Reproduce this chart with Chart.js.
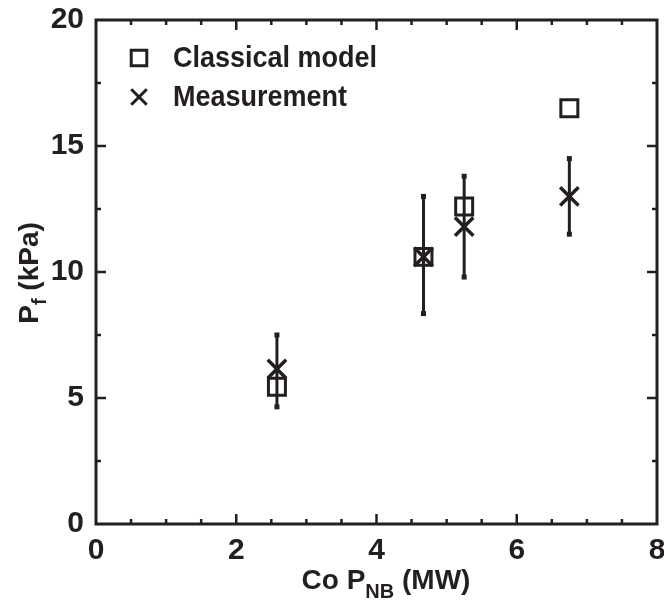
<!DOCTYPE html>
<html>
<head>
<meta charset="utf-8">
<script src="https://cdn.jsdelivr.net/npm/chart.js@4/dist/chart.umd.min.js"></script>
<style>
  html, body { margin: 0; padding: 0; background: #ffffff; overflow: hidden; }
  #wrap { width: 680px; height: 615px; margin-top: -10px; position: relative; }
</style>
</head>
<body>
<div id="wrap"><canvas id="chart"></canvas></div>
<script>
const powerMW = [2.58, 4.67, 5.25, 6.75]
const classicalKPa = [5.45, 10.6, 12.6, 16.5]
const measuredKPa = [6.15, 10.6, 11.8, 13.0]
const measuredLow = [4.65, 8.35, 9.8, 11.5]
const measuredHigh = [7.5, 13.0, 13.8, 14.5]

const xTicks = [0, 2, 4, 6, 8]
const yTicks = [0, 5, 10, 15, 20]
const legendLabels = ["Classical model", "Measurement"]

const ink = "#231f20"
const fontFamily = "'Liberation Sans', Arial, Helvetica, sans-serif"
const shift = 10 // canvas is pulled up by this much so the "20" label fits

const toPoints = (ys) => powerMW.map((x, i) => ({ x, y: ys[i] }))

// draw text squeezed horizontally, like the condensed face of the original
function squeezed(ctx, text, x, y, sx) {
  ctx.save()
  ctx.translate(x, y)
  ctx.scale(sx, 1)
  ctx.fillText(text, 0, 0)
  ctx.restore()
}

const errorBars = {
  id: "errorBars",
  beforeDatasetsDraw(chart) {
    const { ctx, scales } = chart
    ctx.save()
    ctx.strokeStyle = ink
    ctx.fillStyle = ink
    ctx.lineWidth = 3
    powerMW.forEach((x, i) => {
      const px = scales.x.getPixelForValue(x)
      const lo = scales.y.getPixelForValue(measuredLow[i])
      const hi = scales.y.getPixelForValue(measuredHigh[i])
      ctx.beginPath()
      ctx.moveTo(px, lo)
      ctx.lineTo(px, hi)
      ctx.stroke()
      ctx.fillRect(px - 2.5, lo - 2.5, 5, 5)
      ctx.fillRect(px - 2.5, hi - 2.5, 5, 5)
    })
    ctx.restore()
  }
}

const frameAndText = {
  id: "frameAndText",
  afterDraw(chart) {
    const { ctx, chartArea, scales } = chart
    const { left, right, top, bottom } = chartArea
    ctx.save()
    ctx.strokeStyle = ink
    ctx.lineWidth = 3
    ctx.strokeRect(left, top, right - left, bottom - top)

    // inward ticks on all four sides
    ctx.lineWidth = 2.5
    ctx.beginPath()
    for (let v = 0.5; v < 8; v += 0.5) {
      const px = scales.x.getPixelForValue(v)
      const len = v % 2 === 0 ? 10 : 5
      ctx.moveTo(px, bottom); ctx.lineTo(px, bottom - len)
      ctx.moveTo(px, top); ctx.lineTo(px, top + len)
    }
    for (let v = 2.5; v < 20; v += 2.5) {
      const py = scales.y.getPixelForValue(v)
      const len = v % 5 === 0 ? 10 : 5
      ctx.moveTo(left, py); ctx.lineTo(left + len, py)
      ctx.moveTo(right, py); ctx.lineTo(right - len, py)
    }
    ctx.stroke()

    // legend
    const rows = [
      { pointStyle: "rect", radius: 11, rotation: 0, borderWidth: 3, y: 58 + shift },
      { pointStyle: "crossRot", radius: 11, rotation: 0, borderWidth: 3, y: 97 + shift }
    ]
    rows.forEach((m, i) => {
      ctx.strokeStyle = ink
      ctx.lineWidth = 3
      ctx.fillStyle = "rgba(0,0,0,0)"
      Chart.helpers.drawPoint(ctx, m, 139, m.y)
      ctx.fillStyle = ink
      ctx.font = "bold 30px " + fontFamily
      ctx.textBaseline = "middle"
      ctx.textAlign = "left"
      squeezed(ctx, legendLabels[i], 173, m.y + 1, 0.9)
    })

    // x title with subscript
    ctx.fillStyle = ink
    ctx.textBaseline = "alphabetic"
    ctx.textAlign = "left"
    const big = "bold 28px " + fontFamily
    const small = "bold 20px " + fontFamily
    ctx.font = big
    const w1 = ctx.measureText("Co P").width
    const w3 = ctx.measureText(" (MW)").width
    ctx.font = small
    const w2 = ctx.measureText("NB").width
    let x = 386 - (w1 + w2 + w3) / 2
    const base = 589 + shift
    ctx.font = big
    ctx.fillText("Co P", x, base)
    ctx.font = small
    ctx.fillText("NB", x + w1, base + 9)
    ctx.font = big
    ctx.fillText(" (MW)", x + w1 + w2, base)

    // y title with subscript, rotated
    ctx.translate(38, 273 + shift)
    ctx.rotate(-Math.PI / 2)
    ctx.font = big
    const a1 = ctx.measureText("P").width
    const a3 = ctx.measureText(" (kPa)").width
    ctx.font = small
    const a2 = ctx.measureText("f").width
    x = -(a1 + a2 + a3) / 2
    ctx.font = big
    ctx.fillText("P", x, 0)
    ctx.font = small
    ctx.fillText("f", x + a1, 8)
    ctx.font = big
    ctx.fillText(" (kPa)", x + a1 + a2, 0)
    ctx.restore()
  }
}

new Chart(document.getElementById("chart"), {
  type: "scatter",
  data: {
    datasets: [
      {
        label: legendLabels[0],
        data: toPoints(classicalKPa),
        pointStyle: "rect",
        pointRadius: 12,
        pointBorderWidth: 3,
        pointBorderColor: ink,
        pointBackgroundColor: "rgba(0,0,0,0)"
      },
      {
        label: legendLabels[1],
        data: toPoints(measuredKPa),
        pointStyle: "crossRot",
        pointRadius: 13,
        pointBorderWidth: 3.5,
        pointBorderColor: ink,
        pointBackgroundColor: ink
      }
    ]
  },
  options: {
    responsive: true,
    maintainAspectRatio: false,
    animation: false,
    events: [],
    layout: { padding: { top: 19 + shift, right: 23, left: 0, bottom: 0 } },
    plugins: { legend: { display: false }, tooltip: { enabled: false } },
    scales: {
      x: {
        type: "linear",
        min: 0,
        max: 8,
        afterBuildTicks: (scale) => { scale.ticks = xTicks.map((value) => ({ value })) },
        afterFit: (scale) => { scale.height = 81 },
        grid: { display: false, drawTicks: false },
        border: { display: false },
        ticks: { color: ink, padding: 9, maxRotation: 0, font: { family: fontFamily, weight: "bold", size: 30 } }
      },
      y: {
        type: "linear",
        min: 0,
        max: 20,
        afterBuildTicks: (scale) => { scale.ticks = yTicks.map((value) => ({ value })) },
        afterFit: (scale) => { scale.width = 96 },
        grid: { display: false, drawTicks: false },
        border: { display: false },
        ticks: { color: ink, padding: 12, font: { family: fontFamily, weight: "bold", size: 30 } }
      }
    }
  },
  plugins: [errorBars, frameAndText]
})
</script>
</body>
</html>
